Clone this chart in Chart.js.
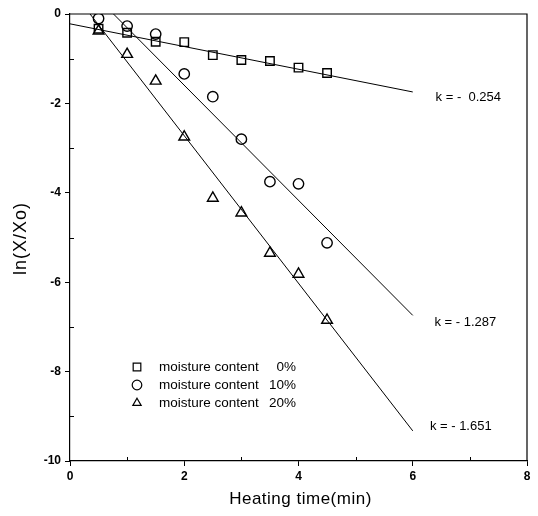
<!doctype html>
<html>

<head>
	<title>Heating time vs ln(X/Xo)</title>
	<script src="https://cdn.jsdelivr.net/npm/chart.js@4/dist/chart.umd.min.js"></script>
	<style>
		body { margin: 0; background: #fff; }
		#wrap { width: 538px; height: 516px; }
	</style>
</head>

<body>
	<div id="wrap">
		<canvas id="canvas"></canvas>
	</div>
	<script>
		// heating time (min) and measured ln(X/Xo) per moisture content
		const times = [0.5, 1, 1.5, 2, 2.5, 3, 3.5, 4, 4.5];
		const mc0 = [-0.33, -0.42, -0.62, -0.63, -0.92, -1.03, -1.05, -1.2, -1.32];
		const mc10 = [-0.1, -0.27, -0.45, -1.34, -1.85, -2.8, -3.75, -3.8, -5.12];
		const mc20 = [-0.38, -0.9, -1.5, -2.75, -4.12, -4.45, -5.35, -5.82, -6.85];

		// fitted lines: slope k and intercept, drawn over fitRange
		const slopes = [-0.254, -1.287, -1.651];
		const intercepts = [-0.22, 0.98, 0.58];
		const fitRange = [0, 6];
		const kLabels = ['k = -  0.254', 'k = - 1.287', 'k = - 1.651'];

		const seriesNames = ['moisture content', 'moisture content', 'moisture content'];
		const seriesPct = ['0%', '10%', '20%'];
		const markers = ['rect', 'circle', 'triangle'];

		const xTicks = [0, 2, 4, 6, 8];
		const yTicks = [0, -2, -4, -6, -8, -10];

		const xTitle = 'Heating time(min)';
		const yTitle = 'ln(X/Xo)';

		const FONT = "'Liberation Sans', Arial, sans-serif";

		const toPts = (ys) => times.map((t, i) => ({ x: t, y: ys[i] }));
		const fitPts = (i) => fitRange.map((t) => ({ x: t, y: intercepts[i] + slopes[i] * t }));

		const markerSize = { rect: 6, circle: 5.2, triangle: 6.2 };

		const datasets = [];
		[mc0, mc10, mc20].forEach((ys, i) => {
			datasets.push({
				type: 'scatter',
				data: toPts(ys),
				pointStyle: markers[i],
				pointRadius: markerSize[markers[i]],
				pointBorderColor: '#000',
				pointBackgroundColor: 'rgba(255,255,255,0)',
				pointBorderWidth: 1.4,
				showLine: false
			});
		});
		slopes.forEach((k, i) => {
			datasets.push({
				type: 'line',
				data: fitPts(i),
				borderColor: '#000',
				borderWidth: 1,
				pointRadius: 0,
				fill: false
			});
		});

		// frame, inward minor ticks, axis titles, legend and k annotations
		const decor = {
			id: 'decor',
			afterDatasetsDraw(chart) {
				const { ctx, chartArea: a, scales: { x, y } } = chart;
				ctx.save();
				ctx.strokeStyle = '#000';
				ctx.lineWidth = 1.2;
				ctx.beginPath();
				ctx.moveTo(a.left, a.top);
				ctx.lineTo(a.right, a.top);
				ctx.lineTo(a.right, a.bottom);
				ctx.stroke();

				ctx.lineWidth = 1;
				ctx.beginPath();
				[1, 3, 5, 7].forEach((v) => {
					const px = Math.round(x.getPixelForValue(v)) + 0.5;
					ctx.moveTo(px, a.bottom);
					ctx.lineTo(px, a.bottom - 4);
				});
				[-1, -3, -5, -7, -9].forEach((v) => {
					const py = Math.round(y.getPixelForValue(v)) + 0.5;
					ctx.moveTo(a.left, py);
					ctx.lineTo(a.left + 4, py);
				});
				ctx.stroke();

				// axis titles, set a little wide
				ctx.fillStyle = '#000';
				ctx.textAlign = 'center';
				ctx.textBaseline = 'alphabetic';
				ctx.font = '17px ' + FONT;
				ctx.letterSpacing = '0.5px';
				ctx.fillText(xTitle, (a.left + a.right) / 2 + 2, a.bottom + 43);
				ctx.save();
				ctx.translate(26, (a.top + a.bottom) / 2 + 1);
				ctx.rotate(-Math.PI / 2);
				ctx.font = '18px ' + FONT;
				ctx.letterSpacing = '1px';
				ctx.fillText(yTitle, 0, 0);
				ctx.restore();
				ctx.letterSpacing = '0px';

				// legend
				ctx.font = '13.5px ' + FONT;
				ctx.textBaseline = 'middle';
				const lx = a.left + 67;
				const ly = a.top + 353;
				markers.forEach((m, i) => {
					const yy = ly + i * 18;
					ctx.lineWidth = 1.2;
					ctx.strokeStyle = '#000';
					ctx.fillStyle = 'rgba(255,255,255,0)';
					Chart.helpers.drawPoint(ctx, {
						pointStyle: m,
						radius: m === 'rect' ? 5.4 : 4.8,
						rotation: 0,
						borderWidth: 1.2
					}, lx, yy);
					ctx.fillStyle = '#000';
					ctx.textAlign = 'left';
					ctx.fillText(seriesNames[i], lx + 22, yy);
					ctx.textAlign = 'right';
					ctx.fillText(seriesPct[i], lx + 159, yy);
				});

				// k values next to the line ends
				ctx.fillStyle = '#000';
				ctx.textAlign = 'left';
				ctx.font = '13px ' + FONT;
				const offs = [[0.4, -0.12], [0.38, -0.15], [0.3, 0.1]];
				kLabels.forEach((txt, i) => {
					const ex = fitRange[1];
					const ey = intercepts[i] + slopes[i] * ex;
					ctx.fillText(txt, x.getPixelForValue(ex + offs[i][0]), y.getPixelForValue(ey + offs[i][1]));
				});
				ctx.restore();
			}
		};

		new Chart(document.getElementById('canvas'), {
			data: { datasets },
			options: {
				responsive: true,
				maintainAspectRatio: false,
				animation: false,
				layout: { padding: { top: 14, right: 11, left: 0, bottom: 0 } },
				plugins: { legend: { display: false }, tooltip: { enabled: false } },
				scales: {
					x: {
						type: 'linear',
						min: 0,
						max: 8,
						afterBuildTicks: (s) => { s.ticks = xTicks.map((v) => ({ value: v })); },
						afterFit: (s) => { s.height = 55; },
						grid: { drawOnChartArea: false, tickLength: 5, color: '#000', lineWidth: 1 },
						border: { color: '#000', width: 1.2 },
						ticks: { color: '#000', padding: 3, font: { family: FONT, size: 12, weight: 'bold' } }
					},
					y: {
						type: 'linear',
						min: -10,
						max: 0,
						afterBuildTicks: (s) => { s.ticks = yTicks.map((v) => ({ value: v })); },
						afterFit: (s) => { s.width = 70; },
						grid: { drawOnChartArea: false, tickLength: 5, color: '#000', lineWidth: 1 },
						border: { color: '#000', width: 1.2 },
						ticks: { color: '#000', padding: 4, font: { family: FONT, size: 12, weight: 'bold' } }
					}
				}
			},
			plugins: [decor]
		});
	</script>
</body>

</html>
